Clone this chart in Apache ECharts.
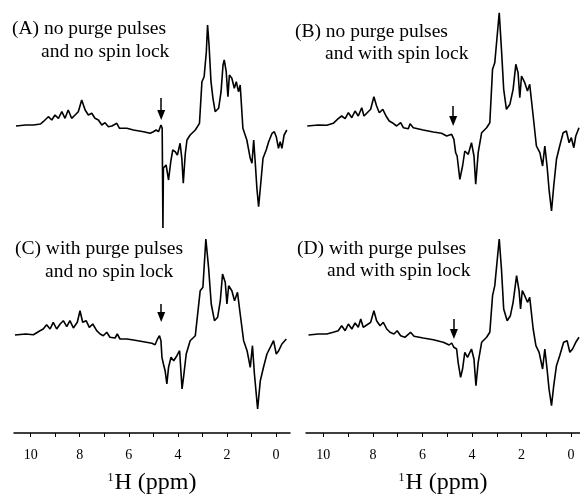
<!DOCTYPE html>
<html>
<head>
<meta charset="utf-8">
<script src="https://cdn.jsdelivr.net/npm/echarts@6/dist/echarts.min.js"></script>
<style>
  html, body { margin: 0; padding: 0; background: #fff; }
  #chart { width: 580px; height: 499px; }
</style>
</head>
<body>
<div id="chart"></div>
<script>
// spectra: [ppm, intensity (arb.)]
var specA = [
  [10.60, 0], [10.2, 1], [9.89, 1], [9.6, 2], [9.49, 4.3], [9.28, 9.3], [9.14, 6], [9.01, 11], [8.87, 7.7], [8.73, 14.3],
  [8.60, 7.7], [8.47, 16], [8.33, 7.7], [8.19, 11], [8.06, 14.3], [7.92, 26], [7.78, 16], [7.65, 11],
  [7.51, 12.7], [7.38, 7.7], [7.24, 6], [7.10, 1], [6.97, 3.3], [6.83, -0.7], [6.69, 0], [6.49, 2.7],
  [6.38, -2.3], [6.08, -2.3], [5.81, -4], [5.40, -5.7], [5.13, -7.3], [5.00, -5.7], [4.89, -4],
  [4.79, -5.7], [4.69, 1], [4.64, -2], [4.61, -102], [4.59, -42], [4.48, -39], [4.38, -54],
  [4.29, -35.7], [4.21, -24], [4.11, -25.7], [4.02, -29], [3.91, -17.3], [3.84, -32.3], [3.78, -57.3],
  [3.70, -28], [3.63, -14], [3.50, -9], [3.29, -4], [3.12, 2.7], [3.02, 44.3], [2.93, 49.3],
  [2.84, 74.3], [2.79, 101], [2.73, 81], [2.65, 44.3], [2.57, 27.7], [2.48, 14.3], [2.34, 17.7],
  [2.24, 34.3], [2.16, 61], [2.11, 66], [2.03, 54.3], [1.96, 29.3], [1.90, 51], [1.80, 47.7],
  [1.70, 37.7], [1.62, 44.3], [1.53, 34.3], [1.46, 41], [1.35, -2.3], [1.19, -14], [1.05, -32.3],
  [0.98, -37.3], [0.91, -14], [0.84, -39], [0.78, -62.3], [0.71, -80.7], [0.64, -62.3], [0.53, -32.3],
  [0.40, -24], [0.30, -15.7], [0.16, -7.3], [0.07, -5.7], [-0.01, -10.7], [-0.10, -22.3],
  [-0.17, -15.7], [-0.24, -22.3], [-0.33, -9], [-0.44, -4]
];
var specB = [
  [10.65, 0], [10.2, 1], [9.86, 0.7], [9.60, 2.7], [9.40, 7.3], [9.26, 10], [9.12, 7.3], [8.99, 13.3], [8.85, 8.3],
  [8.72, 15], [8.59, 10], [8.45, 18.3], [8.36, 10], [8.23, 13.3], [8.09, 16.7], [7.96, 29.3], [7.85, 20],
  [7.74, 13.3], [7.60, 16.7], [7.47, 10], [7.34, 5], [7.18, 2.7], [7.04, 0], [6.88, 3.3], [6.77, -1.7],
  [6.57, -2.7], [6.50, 2.3], [6.37, -1.7], [5.97, -4], [5.56, -6], [5.23, -7.3], [5.02, -10],
  [4.82, -8.3], [4.73, -13.3], [4.66, -26.7], [4.60, -30], [4.49, -53.3], [4.38, -40], [4.29, -25],
  [4.15, -28.3], [4.02, -16.7], [3.92, -30], [3.85, -58.3], [3.75, -26.7], [3.61, -6.7], [3.41, -1.7],
  [3.28, 3.3], [3.17, 56.7], [3.08, 63.3], [2.90, 113.3], [2.81, 76.7], [2.72, 36.7], [2.61, 16.7],
  [2.47, 21.7], [2.34, 36.7], [2.23, 61.7], [2.14, 53.3], [2.07, 28.3], [2.00, 50], [1.87, 43.3],
  [1.76, 35], [1.67, 41.7], [1.53, 10], [1.40, -20], [1.26, -26.7], [1.15, -40], [1.06, -20],
  [0.97, -40], [0.89, -63.3], [0.79, -85], [0.70, -60], [0.59, -33.3], [0.46, -20], [0.32, -6.7],
  [0.19, -5], [0.08, -16.7], [-0.01, -11.7], [-0.11, -21.7], [-0.19, -10], [-0.32, -1.7]
];
var specC = [
  [10.64, 0], [10.2, 1], [9.89, 0.3], [9.62, 4.3], [9.49, 6], [9.35, 10.3], [9.21, 6], [9.08, 12.7], [8.94, 6],
  [8.80, 11], [8.67, 14.3], [8.53, 8.3], [8.40, 14.3], [8.26, 7], [8.10, 12.7], [7.99, 24.3], [7.88, 12.7],
  [7.74, 14.3], [7.61, 7.7], [7.47, 11], [7.31, 4.3], [7.17, 1], [7.04, -0.7], [6.90, 2.7], [6.77, -2.3],
  [6.56, -3], [6.47, 1], [6.36, -4], [6.08, -4], [5.81, -5], [5.40, -6.7], [5.06, -8.3], [4.93, -9.7],
  [4.83, -4], [4.75, -0.7], [4.69, -5.7], [4.65, -22.3], [4.59, -29], [4.52, -35.7], [4.45, -49],
  [4.38, -32.3], [4.28, -22.3], [4.17, -25.7], [4.04, -20.7], [3.93, -15.7], [3.83, -54], [3.77, -42.3],
  [3.66, -19], [3.50, -5.7], [3.29, -0.7], [3.09, 44.3], [2.98, 47.7], [2.86, 96], [2.75, 67.7],
  [2.64, 31], [2.51, 14.3], [2.38, 17.7], [2.27, 34.3], [2.18, 61], [2.07, 52.7], [2.00, 31],
  [1.93, 49.3], [1.80, 44.3], [1.69, 34.3], [1.57, 42.7], [1.46, 21], [1.32, -5.7], [1.18, -15.7],
  [1.05, -32.3], [0.96, -10.7], [0.88, -39], [0.75, -74], [0.64, -45.7], [0.51, -32.3], [0.37, -19],
  [0.20, -10.7], [0.10, -5.7], [-0.01, -19], [-0.11, -15.7], [-0.24, -9], [-0.42, -4]
];
var specD = [
  [10.60, 0], [10.2, 1], [9.86, 1], [9.60, 2.7], [9.40, 4.3], [9.26, 9.3], [9.12, 4.3], [8.99, 11], [8.85, 6],
  [8.72, 12], [8.59, 7.7], [8.49, 16], [8.39, 7.7], [8.25, 10], [8.09, 12.7], [7.96, 24.3], [7.85, 14.3],
  [7.71, 9.3], [7.58, 12.7], [7.44, 6], [7.31, 2.7], [7.15, 1], [7.02, 4.3], [6.88, -0.7], [6.71, -2.3],
  [6.48, 2.7], [6.34, -1.3], [5.97, -3], [5.56, -4.7], [5.16, -7.3], [4.92, -10], [4.82, -8],
  [4.73, -12.3], [4.62, -14], [4.56, -27.3], [4.46, -42.3], [4.38, -34], [4.29, -17.3], [4.18, -22.3],
  [4.02, -14], [3.92, -24], [3.84, -50.7], [3.75, -27.3], [3.61, -7.3], [3.41, -2.3], [3.28, 2.7],
  [3.17, 39.3], [3.08, 49.3], [2.90, 96], [2.81, 66], [2.72, 26], [2.58, 14.3], [2.45, 19.3],
  [2.34, 32.7], [2.20, 59.3], [2.10, 44.3], [2.04, 26], [1.97, 44.3], [1.87, 39.3], [1.76, 32.7],
  [1.67, 37.7], [1.53, 6], [1.42, -10.7], [1.29, -17.3], [1.15, -34], [1.06, -14], [0.97, -34],
  [0.89, -54], [0.79, -70.7], [0.70, -50.7], [0.59, -30.7], [0.46, -20.7], [0.30, -7.3], [0.16, -5.7],
  [0.05, -17.3], [-0.06, -14], [-0.19, -7.3], [-0.32, -2.3]
];

// water-line arrows: [ppm, tail intensity, head tip intensity]
var arrowA = [4.68, 28, 6];
var arrowB = [4.76, 20, 0];
var arrowC = [4.68, 31, 13];
var arrowD = [4.73, 16, -4];

var labelsA = ['(A) no purge pulses', 'and no spin lock'];
var labelsB = ['(B) no purge pulses', 'and with spin lock'];
var labelsC = ['(C) with purge pulses', 'and no spin lock'];
var labelsD = ['(D) with purge pulses', 'and with spin lock'];

var tickValues = [0, 1, 2, 3, 4, 5, 6, 7, 8, 9, 10];
var labelValues = [0, 2, 4, 6, 8, 10];

var serif = '"Liberation Serif", "Times New Roman", serif';
var chart = echarts.init(document.getElementById('chart'));

function xAx(idx, min, max, showIt) {
  return {
    type: 'value', gridIndex: idx, inverse: true, min: min, max: max,
    show: showIt,
    splitLine: { show: false },
    axisLine: { show: true, onZero: false, lineStyle: { color: '#000', width: 1.5 } },
    axisTick: { show: true, inside: false, length: 4, customValues: tickValues, lineStyle: { color: '#000', width: 1 } },
    axisLabel: { show: true, customValues: labelValues, margin: 15, color: '#000', fontFamily: serif, fontSize: 14 },
    name: '{s|1}H (ppm)', nameLocation: 'middle', nameGap: 38,
    nameTextStyle: {
      color: '#000', fontFamily: serif, fontSize: 24,
      rich: { s: { fontFamily: serif, fontSize: 12, color: '#000', padding: [0, 1, 11, 0] } }
    }
  };
}
function yAx(idx, min, max) {
  return { type: 'value', gridIndex: idx, min: min, max: max, show: false, splitLine: { show: false } };
}
function spec(idx, data, arrow) {
  return {
    type: 'line', xAxisIndex: idx, yAxisIndex: idx, data: data,
    showSymbol: false, symbol: 'none', smooth: false, clip: false,
    lineStyle: { color: '#000', width: 1.6 },
    markLine: {
      silent: true, symbol: ['none', 'none'],
      lineStyle: { color: '#000', width: 1.5, type: 'solid' },
      label: { show: false },
      data: [[{ coord: [arrow[0], arrow[1]] }, { coord: [arrow[0], arrow[2] + 6] }]]
    },
    markPoint: {
      silent: true, symbol: 'triangle', symbolSize: [8, 10], symbolRotate: 180, symbolOffset: [0, -5],
      itemStyle: { color: '#000' }, label: { show: false },
      data: [{ coord: [arrow[0], arrow[2]] }]
    }
  };
}
function textPair(lines, x1, y1, x2, y2) {
  return [
    { type: 'text', x: x1, y: y1, style: { text: lines[0], font: '19.5px ' + serif, fill: '#000', textVerticalAlign: 'middle' } },
    { type: 'text', x: x2, y: y2, style: { text: lines[1], font: '19.5px ' + serif, fill: '#000', textVerticalAlign: 'middle' } }
  ];
}

var option = {
  animation: false,
  backgroundColor: '#fff',
  grid: [
    { left: 14, width: 276, top: 0, height: 240, outerBoundsMode: 'none' },
    { left: 306, width: 274, top: 0, height: 240, outerBoundsMode: 'none' },
    { left: 14, width: 276, top: 220, height: 213, outerBoundsMode: 'none' },
    { left: 306, width: 274, top: 220, height: 213, outerBoundsMode: 'none' }
  ],
  xAxis: [
    xAx(0, -0.57, 10.68, false),
    xAx(1, -0.36, 10.70, false),
    xAx(2, -0.57, 10.68, true),
    xAx(3, -0.36, 10.70, true)
  ],
  yAxis: [
    yAx(0, -114, 126),
    yAx(1, -114, 126),
    yAx(2, -98, 115),
    yAx(3, -98, 115)
  ],
  series: [
    spec(0, specA, arrowA),
    spec(1, specB, arrowB),
    spec(2, specC, arrowC),
    spec(3, specD, arrowD)
  ],
  graphic: [].concat(
    textPair(labelsA, 12, 29, 41, 52),
    textPair(labelsB, 295, 32, 325, 54),
    textPair(labelsC, 15, 249, 45, 272),
    textPair(labelsD, 297, 249, 327, 271)
  )
};
chart.setOption(option);
</script>
</body>
</html>
